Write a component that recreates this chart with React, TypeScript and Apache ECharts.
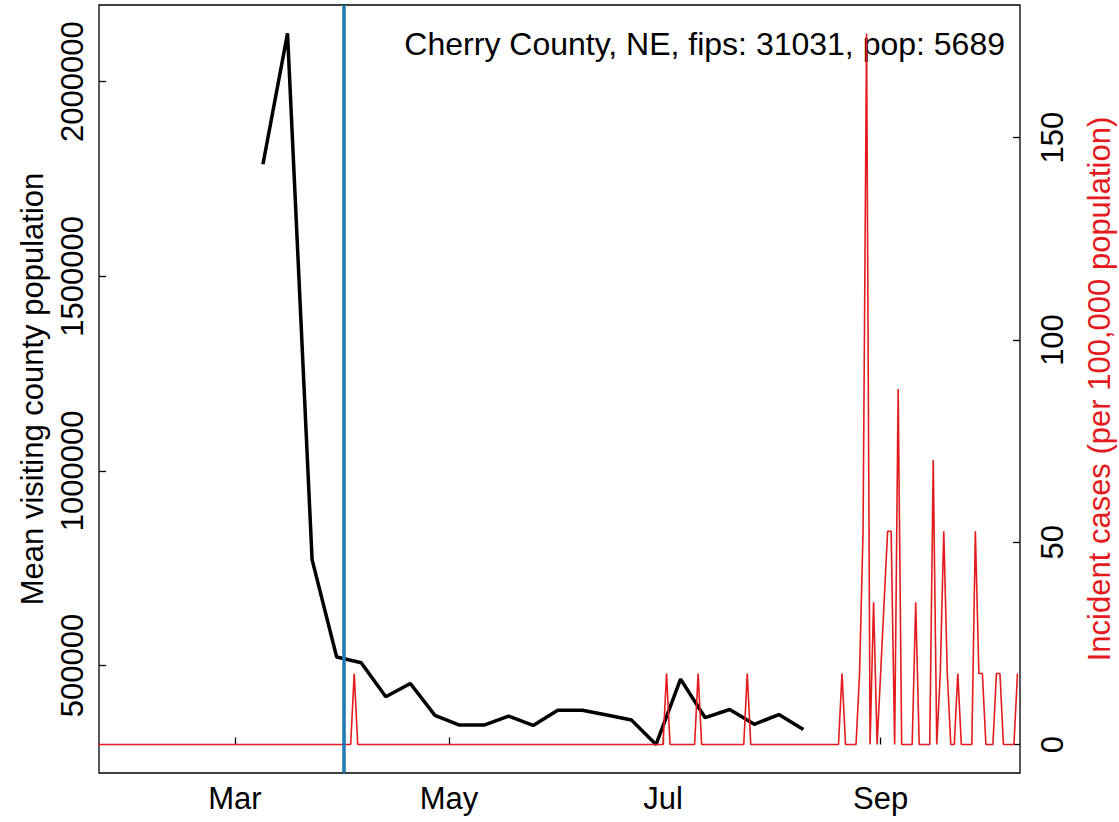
import React, { useEffect, useRef } from "react";
import * as echarts from "echarts";

const monthNames = ["Jan", "Feb", "Mar", "Apr", "May", "Jun", "Jul", "Aug", "Sep", "Oct", "Nov", "Dec"];

const visitDates = [
  "2020-03-09", "2020-03-16", "2020-03-23", "2020-03-30",
  "2020-04-06", "2020-04-13", "2020-04-20", "2020-04-27",
  "2020-05-04", "2020-05-11", "2020-05-18", "2020-05-25",
  "2020-06-01", "2020-06-08", "2020-06-15", "2020-06-22", "2020-06-29",
  "2020-07-06", "2020-07-13", "2020-07-20", "2020-07-27",
  "2020-08-03", "2020-08-10",
];
const visitValues = [
  1788000, 2124000, 772000, 522000,
  507000, 420000, 454000, 372000,
  347000, 347000, 370000, 346000,
  385000, 385000, 373000, 360000, 297000,
  465000, 366000, 387000, 349000,
  374000, 336000,
];

const incidentStart = "2020-01-20";
const incidentEnd = "2020-10-10";
const incidentDates = [
  "2020-04-04", "2020-07-02", "2020-07-11", "2020-07-25",
  "2020-08-21", "2020-08-26", "2020-08-27", "2020-08-28", "2020-08-30",
  "2020-09-01", "2020-09-02", "2020-09-03", "2020-09-04", "2020-09-06",
  "2020-09-11", "2020-09-16", "2020-09-18", "2020-09-19", "2020-09-20",
  "2020-09-23", "2020-09-28", "2020-09-29", "2020-09-30",
  "2020-10-04", "2020-10-05", "2020-10-10",
];
const incidentValues = [
  17.58, 17.58, 17.58, 17.58,
  17.58, 17.58, 52.73, 175.78, 35.16,
  17.58, 35.16, 52.73, 52.73, 87.89,
  35.16, 70.31, 17.58, 52.73, 17.58,
  17.58, 52.73, 17.58, 17.58,
  17.58, 17.58, 17.58,
];

const xTickDates = ["2020-03-01", "2020-05-01", "2020-07-01", "2020-09-01"];
const leftTicks = [500000, 1000000, 1500000, 2000000];
const rightTicks = [0, 50, 100, 150];
const interventionDate = "2020-04-01";
const titleText = "Cherry County, NE, fips: 31031, pop: 5689";

const DAY = 86400000;
const xDataStart = Date.parse("2020-02-01");
const xDataEnd = Date.parse("2020-10-01");
const xPad = (xDataEnd - xDataStart) * 0.04;

const leftMin = 297000, leftMax = 2124000;
const leftPad = (leftMax - leftMin) * 0.04;
const rightMax = 175.78;
const rightPad = rightMax * 0.04;

const FONT = "'Liberation Sans', Arial, Helvetica, sans-serif";
const RED = "#E41A1C";

export default function App() {
  const ref = useRef<HTMLDivElement>(null);
  useEffect(() => {
    if (!ref.current) return;
    const chart = echarts.init(ref.current, undefined, { renderer: "svg" });

    const visitData = visitDates.map((d, i) => [Date.parse(d), visitValues[i]]);
    const incMap: Record<number, number> = {};
    incidentDates.forEach((d, i) => (incMap[Date.parse(d)] = incidentValues[i]));
    const incData: number[][] = [];
    for (let t = Date.parse(incidentStart); t <= Date.parse(incidentEnd); t += DAY) {
      incData.push([t, incMap[t] ?? 0]);
    }
    const xTicks = xTickDates.map((d) => Date.parse(d));

    const tickStyle = { show: true, inside: true, length: 7, lineStyle: { color: "#000", width: 1.3 } };

    chart.setOption({
      animation: false,
      textStyle: { fontFamily: FONT },
      grid: {
        left: 99, right: 99, top: 5, bottom: 49,
        outerBoundsMode: "none",
        containLabel: false,
        show: true, borderColor: "#000", borderWidth: 1.3, backgroundColor: "transparent",
      },
      graphic: [
        {
          type: "text", right: 114, top: 28, z: 0,
          style: { text: titleText, font: `32px ${FONT}`, fill: "#000" },
        },
      ],
      xAxis: {
        type: "value",
        min: xDataStart - xPad,
        max: xDataEnd + xPad,
        axisLine: { show: false },
        splitLine: { show: false },
        axisTick: { ...tickStyle, customValues: xTicks },
        axisLabel: {
          customValues: xTicks,
          formatter: (v: number) => monthNames[new Date(v).getUTCMonth()],
          fontSize: 31, color: "#000", margin: 10, fontFamily: FONT,
        },
      },
      yAxis: [
        {
          type: "value",
          position: "left",
          min: leftMin - leftPad,
          max: leftMax + leftPad,
          name: "Mean visiting county population",
          nameLocation: "middle",
          nameRotate: 90,
          nameGap: 51,
          nameMoveOverlap: false,
          nameTextStyle: { fontSize: 31, color: "#000", fontFamily: FONT },
          axisLine: { show: false },
          splitLine: { show: false },
          axisTick: { ...tickStyle, customValues: leftTicks },
          axisLabel: {
            customValues: leftTicks, rotate: 90, fontSize: 31, color: "#000", margin: 11, fontFamily: FONT,
            formatter: (v: number) => String(v),
          },
        },
        {
          type: "value",
          position: "right",
          min: -rightPad,
          max: rightMax + rightPad,
          name: "Incident cases (per 100,000 population)",
          nameLocation: "middle",
          nameRotate: 90,
          nameGap: 64,
          nameMoveOverlap: false,
          nameTextStyle: { fontSize: 31, color: RED, fontFamily: FONT },
          axisLine: { show: false },
          splitLine: { show: false },
          axisTick: { ...tickStyle, customValues: rightTicks },
          axisLabel: {
            customValues: rightTicks, rotate: 90, fontSize: 31, color: "#000", margin: 17, fontFamily: FONT,
            formatter: (v: number) => String(v),
          },
        },
      ],
      series: [
        {
          type: "line",
          name: "visits",
          yAxisIndex: 0,
          data: visitData,
          showSymbol: false,
          symbol: "none",
          lineStyle: { color: "#000", width: 3.5 },
          z: 3,
        },
        {
          type: "line",
          name: "incident",
          yAxisIndex: 1,
          data: incData,
          showSymbol: false,
          symbol: "none",
          lineStyle: { color: RED, width: 1.6 },
          z: 4,
          markLine: {
            silent: true,
            symbol: ["none", "none"],
            label: { show: false },
            lineStyle: { color: "#1F78B4", width: 3.5, type: "solid" },
            data: [{ xAxis: Date.parse(interventionDate) }],
            z: 5,
          },
        },
      ],
    });
    return () => chart.dispose();
  }, []);
  return <div ref={ref} style={{ position: "absolute", left: 0, top: 0, width: 1119, height: 822 }} />;
}
